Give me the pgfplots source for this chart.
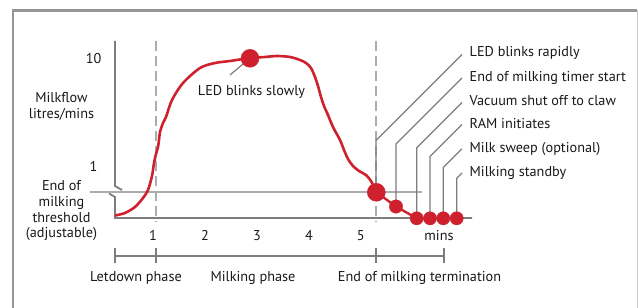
\documentclass[border=0pt]{standalone}
\usepackage{pgfplots}
\pgfplotsset{compat=1.18}
\usepackage{pgfplotstable}
\usepackage{fontspec}
\setmainfont{PT Sans}
\definecolor{milkred}{RGB}{207,32,46}
\definecolor{axgray}{RGB}{125,125,125}
\definecolor{ltgray}{RGB}{172,172,172}
\definecolor{framegray}{RGB}{150,150,150}
\definecolor{txt}{RGB}{25,25,25}
\tikzset{lbl/.style={font=\fontsize{14.3}{17}\selectfont, text=txt, inner sep=0pt}}

% milk-flow curve, in picture coordinates (x to the right, y downwards)
\pgfplotstableread{
x y
115 215.5
125 213
135 207
143 198
148 190
152 176
154 163
156 154
158 147
159 140
160 132
163 123
166 117
172 100
183 83
200 68
215 63
230 61
250 58
265 57
277 56
290 57
300 60
306 63
311 68
315 77
318 86
321 97
324 106
328 115
333 127
340 140
344 150
348 159
353 166
359 171
366 175
371 181
374 187
376 192
}\flowcurve

\pgfplotstableread{
x y
376 192
396 206.5
416.7 218.3
}\tailline

\begin{document}
\begin{tikzpicture}
\begin{axis}[width=638bp, height=308bp, scale only axis,
  xmin=0, xmax=638, ymin=0, ymax=308, y dir=reverse,
  hide axis, clip=true]

% frame
\draw[framegray, line width=2.7bp] (12,10.7) -- (637,10.7);
\draw[framegray, line width=2bp] (13,10) -- (13,320);
\draw[black!20, line width=1bp] (637,10) -- (637,320);

% axes
\draw[axgray, line width=1.8bp] (115,41) -- (115,186) -- (122,190);
\draw[axgray, line width=1.8bp] (109,193.5) -- (115,197) -- (115,218) -- (472,218);
\draw[ltgray, line width=1.5bp] (90,192) -- (422,192);
\draw[ltgray, line width=1.5bp, dash pattern=on 10bp off 5bp] (156,41) -- (156,222);
\draw[ltgray, line width=1.5bp, dash pattern=on 10bp off 5bp] (376,41) -- (376,222);

% phase bar
\draw[axgray, line width=1.5bp] (115,256) -- (444,256);
\draw[axgray, line width=1.5bp] (115,248) -- (115,263);
\draw[axgray, line width=1.5bp] (156,248) -- (156,263);
\draw[axgray, line width=1.5bp] (376,248) -- (376,263);
\draw[axgray, line width=1.5bp] (444,248) -- (444,263);

% leader lines
\draw[axgray, line width=1.2bp] (249,59) -- (230,75);
\draw[axgray, line width=1.2bp] (376,192) -- (376,140.5) -- (462,54.5);
\draw[axgray, line width=1.2bp] (396,206) -- (396,144) -- (462,78);
\draw[axgray, line width=1.2bp] (416.7,218) -- (416.7,147.7) -- (462,102.5);
\draw[axgray, line width=1.2bp] (430,218) -- (430,156.5) -- (462,124.5);
\draw[axgray, line width=1.2bp] (443.3,218) -- (443.3,167.5) -- (462,148.8);
\draw[axgray, line width=1.2bp] (456.7,218) -- (456.7,178.2) -- (462,172.9);

% curve
\addplot[milkred, line width=2.6bp, smooth, tension=0.5] table {\flowcurve};
\addplot[milkred, line width=2.4bp] table {\tailline};

% markers
\addplot[only marks, mark=*, mark size=9bp, milkred] coordinates {(250,58.3) (376.3,192.3)};
\addplot[only marks, mark=*, mark size=6.7bp, milkred] coordinates {(396,206.5)};
\addplot[only marks, mark=*, mark size=6.6bp, milkred] coordinates {(416.7,218.3) (430,218.3) (443.3,218.3) (456.7,218.3)};

% texts
\node[lbl, anchor=base east] at (101.5,63) {10};
\node[lbl, anchor=base east] at (97.5,171) {1};
\node[lbl, anchor=base] at (61.5,102) {Milkflow};
\node[lbl, anchor=base] at (61.5,118) {litres/mins};
\node[lbl, anchor=base] at (61.5,190) {End of};
\node[lbl, anchor=base] at (61.5,206) {milking};
\node[lbl, anchor=base] at (61.5,222.5) {threshold};
\node[lbl, anchor=base] at (61.5,237.5) {(adjustable)};

\node[lbl, anchor=base] at (153,240.7) {1};
\node[lbl, anchor=base] at (205,240.7) {2};
\node[lbl, anchor=base] at (257,240.7) {3};
\node[lbl, anchor=base] at (309,240.7) {4};
\node[lbl, anchor=base] at (360.7,240.7) {5};
\node[lbl, anchor=base] at (439,240.7) {mins};

\node[lbl, anchor=base] at (136,281) {Letdown phase};
\node[lbl, anchor=base] at (253,281) {Milking phase};
\node[lbl, anchor=base] at (419.5,281) {End of milking termination};

\node[lbl, anchor=base] at (251.5,95.5) {LED blinks slowly};

\node[lbl, anchor=base west] at (469.5,56.8) {LED blinks rapidly};
\node[lbl, anchor=base west] at (469.5,81.5) {End of milking timer start};
\node[lbl, anchor=base west] at (469.5,105) {Vacuum shut off to claw};
\node[lbl, anchor=base west] at (469.5,128.3) {RAM initiates};
\node[lbl, anchor=base west] at (469.5,152.6) {Milk sweep (optional)};
\node[lbl, anchor=base west] at (469.5,176.7) {Milking standby};
\end{axis}
\pgfresetboundingbox
\useasboundingbox (current axis.south west) rectangle (current axis.north east);
\end{tikzpicture}
\end{document}
